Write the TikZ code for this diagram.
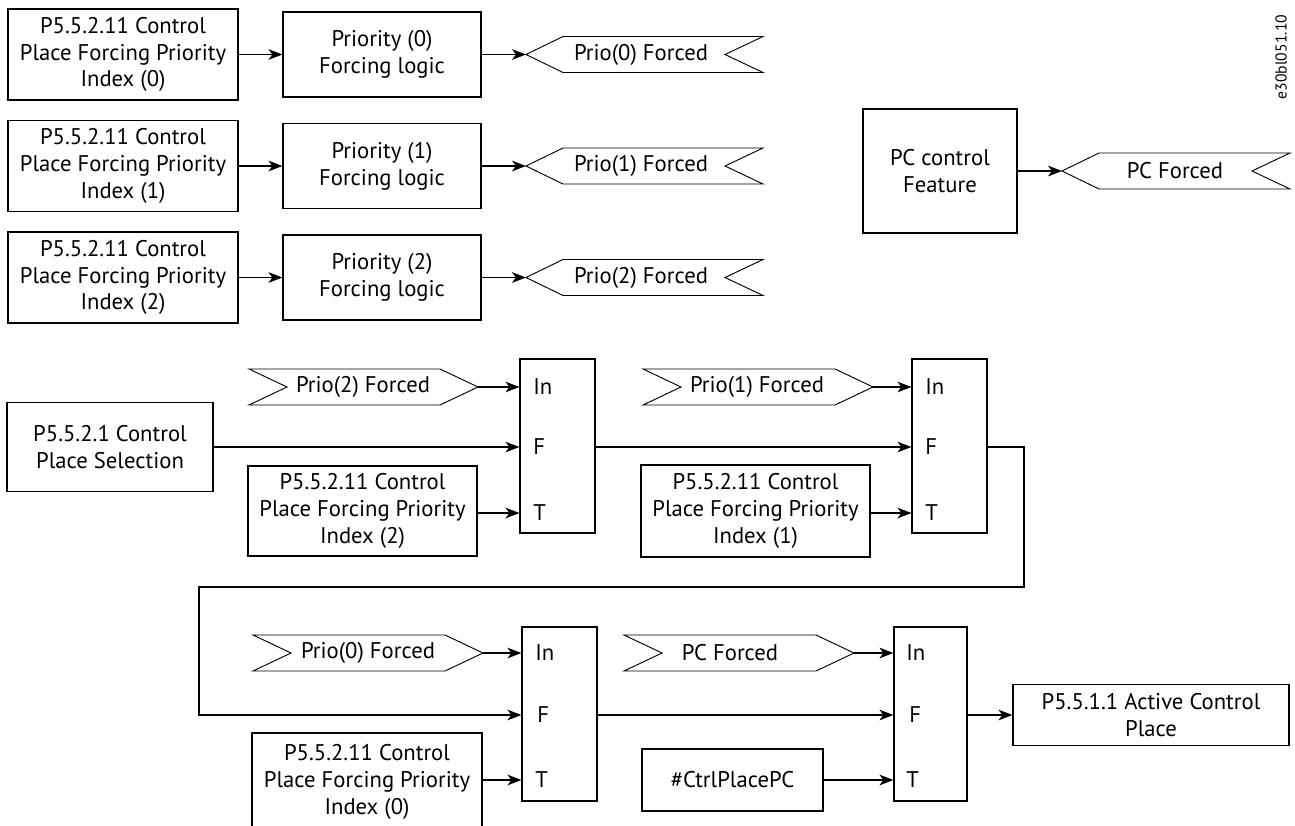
\documentclass[tikz,border=0pt]{standalone}
\usepackage{fontspec}
\setmainfont{PT Sans}
\usetikzlibrary{arrows.meta}
\begin{document}
\begin{tikzpicture}[x=0.75pt,y=-0.75pt,
  txtfont/.style={font=\fontsize{17}{20}\selectfont},
  box/.style={draw, line width=0.9pt, inner sep=0pt, align=center, txtfont},
  sz/.style 2 args={minimum width=#1*0.75pt, minimum height=#2*0.75pt},
  lbl/.style={inner sep=0pt, anchor=west, txtfont},
  arr/.style={line width=0.8pt, -{Stealth[length=10.5pt,width=8pt,inset=3pt]}},
  wire/.style={line width=0.8pt},
  flagline/.style={line width=0.7pt},
  pics/lflag/.style n args={3}{code={
    \draw[flagline] (0,0) -- (37,-18) -- (#1,-18) -- ({#1-38},0) -- (#1,18) -- (37,18) -- cycle;
    \coordinate (-tip) at (0,0);
    \node[inner sep=0pt, txtfont] (-t) at (#3,0) {#2};
  }},
  pics/rflag/.style n args={3}{code={
    \draw[flagline] (0,0) -- (-38,-18) -- (-#1,-18) -- ({-#1+38},0) -- (-#1,18) -- (-38,18) -- cycle;
    \coordinate (-tip) at (0,0);
    \node[inner sep=0pt, txtfont] (-t) at (-#3,0) {#2};
  }}
]
\useasboundingbox (0,0) rectangle (1295,825);
\clip (0,0) rectangle (1295,825);

% ---------- top section ----------
\node[box, sz={230}{91}] (a0) at (123,54.5) {P5.5.2.11 Control\\Place Forcing Priority\\Index (0)};
\node[box, sz={198}{85}] (b0) at (382,54.5) {Priority (0)\\Forcing logic};
\pic (f0) at (526,54.5) {lflag={237}{Prio(0) Forced}{115}};

\node[box, sz={230}{91}] (a1) at (123,166) {P5.5.2.11 Control\\Place Forcing Priority\\Index (1)};
\node[box, sz={198}{85}] (b1) at (382,166) {Priority (1)\\Forcing logic};
\pic (f1) at (526,166) {lflag={237}{Prio(1) Forced}{115}};

\node[box, sz={230}{91}] (a2) at (123,277.5) {P5.5.2.11 Control\\Place Forcing Priority\\Index (2)};
\node[box, sz={198}{85}] (b2) at (382,277.5) {Priority (2)\\Forcing logic};
\pic (f2) at (526,277.5) {lflag={237}{Prio(2) Forced}{115}};

\draw[arr] (a0.east) -- (b0.west);
\draw[arr] (b0.east) -- (f0-tip);
\draw[arr] (a1.east) -- (b1.west);
\draw[arr] (b1.east) -- (f1-tip);
\draw[arr] (a2.east) -- (b2.west);
\draw[arr] (b2.east) -- (f2-tip);

\node[box, sz={154}{124}] (pc) at (940,171) {PC control\\Feature};
\pic (pcf) at (1062,171) {lflag={228}{PC Forced}{113}};
\draw[arr] (pc.east) -- (pcf-tip);

\node[rotate=90, inner sep=0pt, font=\fontsize{11.8}{12}\selectfont] (code) at (1281,57) {e30bl051.10};

% ---------- mux 1 ----------
\node[box, sz={75}{174}] (m1) at (557.5,446) {};
\node[lbl] (m1i) at (533,387) {In};
\node[lbl] (m1f) at (533,447) {F};
\node[lbl] (m1t) at (533,513) {T};
\pic (p2) at (478,387) {rflag={229}{Prio(2) Forced}{115}};
\node[box, sz={206}{89}] (sel) at (110,447) {P5.5.2.1 Control\\Place Selection};
\node[box, sz={229}{90}] (i2) at (362.5,511) {P5.5.2.11 Control\\Place Forcing Priority\\Index (2)};
\draw[arr] (p2-tip) -- (p2-tip -| m1.west);
\draw[arr] (sel.east) -- (sel.east -| m1.west);
\draw[arr] (m1t -| i2.east) -- (m1t -| m1.west);

% ---------- mux 2 ----------
\node[box, sz={75}{174}] (m2) at (949.5,446) {};
\node[lbl] (m2i) at (925,387) {In};
\node[lbl] (m2f) at (925,447) {F};
\node[lbl] (m2t) at (925,513) {T};
\pic (p1) at (873,387) {rflag={230}{Prio(1) Forced}{116}};
\node[box, sz={229}{92}] (i1) at (755.5,511) {P5.5.2.11 Control\\Place Forcing Priority\\Index (1)};
\draw[arr] (p1-tip) -- (p1-tip -| m2.west);
\draw[arr] (m2f -| m1.east) -- (m2f -| m2.west);
\draw[arr] (m2t -| i1.east) -- (m2t -| m2.west);

% ---------- mux 3 ----------
\node[box, sz={75}{174}] (m3) at (559.5,714) {};
\node[lbl] (m3i) at (535,653) {In};
\node[lbl] (m3f) at (537,715) {F};
\node[lbl] (m3t) at (535,780) {T};
\pic (p0) at (483,653) {rflag={230}{Prio(0) Forced}{115}};
\node[box, sz={230}{98}] (i0) at (367,782) {P5.5.2.11 Control\\Place Forcing Priority\\Index (0)};
\draw[arr] (p0-tip) -- (p0-tip -| m3.west);
\draw[arr] (m3t -| i0.east) -- (m3t -| m3.west);

\coordinate (c1) at (1024,587);
\coordinate (c2) at (199,587);
\draw[arr] (m2f -| m2.east) -| (c1) -- (c2) |- (m3f -| m3.west);

% ---------- mux 4 ----------
\node[box, sz={73}{174}] (m4) at (930.5,714) {};
\node[lbl] (m4i) at (906,653) {In};
\node[lbl] (m4f) at (909,715) {F};
\node[lbl] (m4t) at (906,780) {T};
\pic (pc2) at (854,653) {rflag={230}{PC Forced}{124}};
\node[box, sz={181}{62}] (ctrl) at (732.5,780) {\#CtrlPlacePC};
\node[box, sz={276}{61}] (act) at (1151,715) {P5.5.1.1 Active Control\\Place};
\draw[arr] (pc2-tip) -- (pc2-tip -| m4.west);
\draw[arr] (m4f -| m3.east) -- (m4f -| m4.west);
\draw[arr] (ctrl.east) -- (ctrl.east -| m4.west);
\draw[arr] (m4f -| m4.east) -- (act.west);
\end{tikzpicture}
\end{document}
